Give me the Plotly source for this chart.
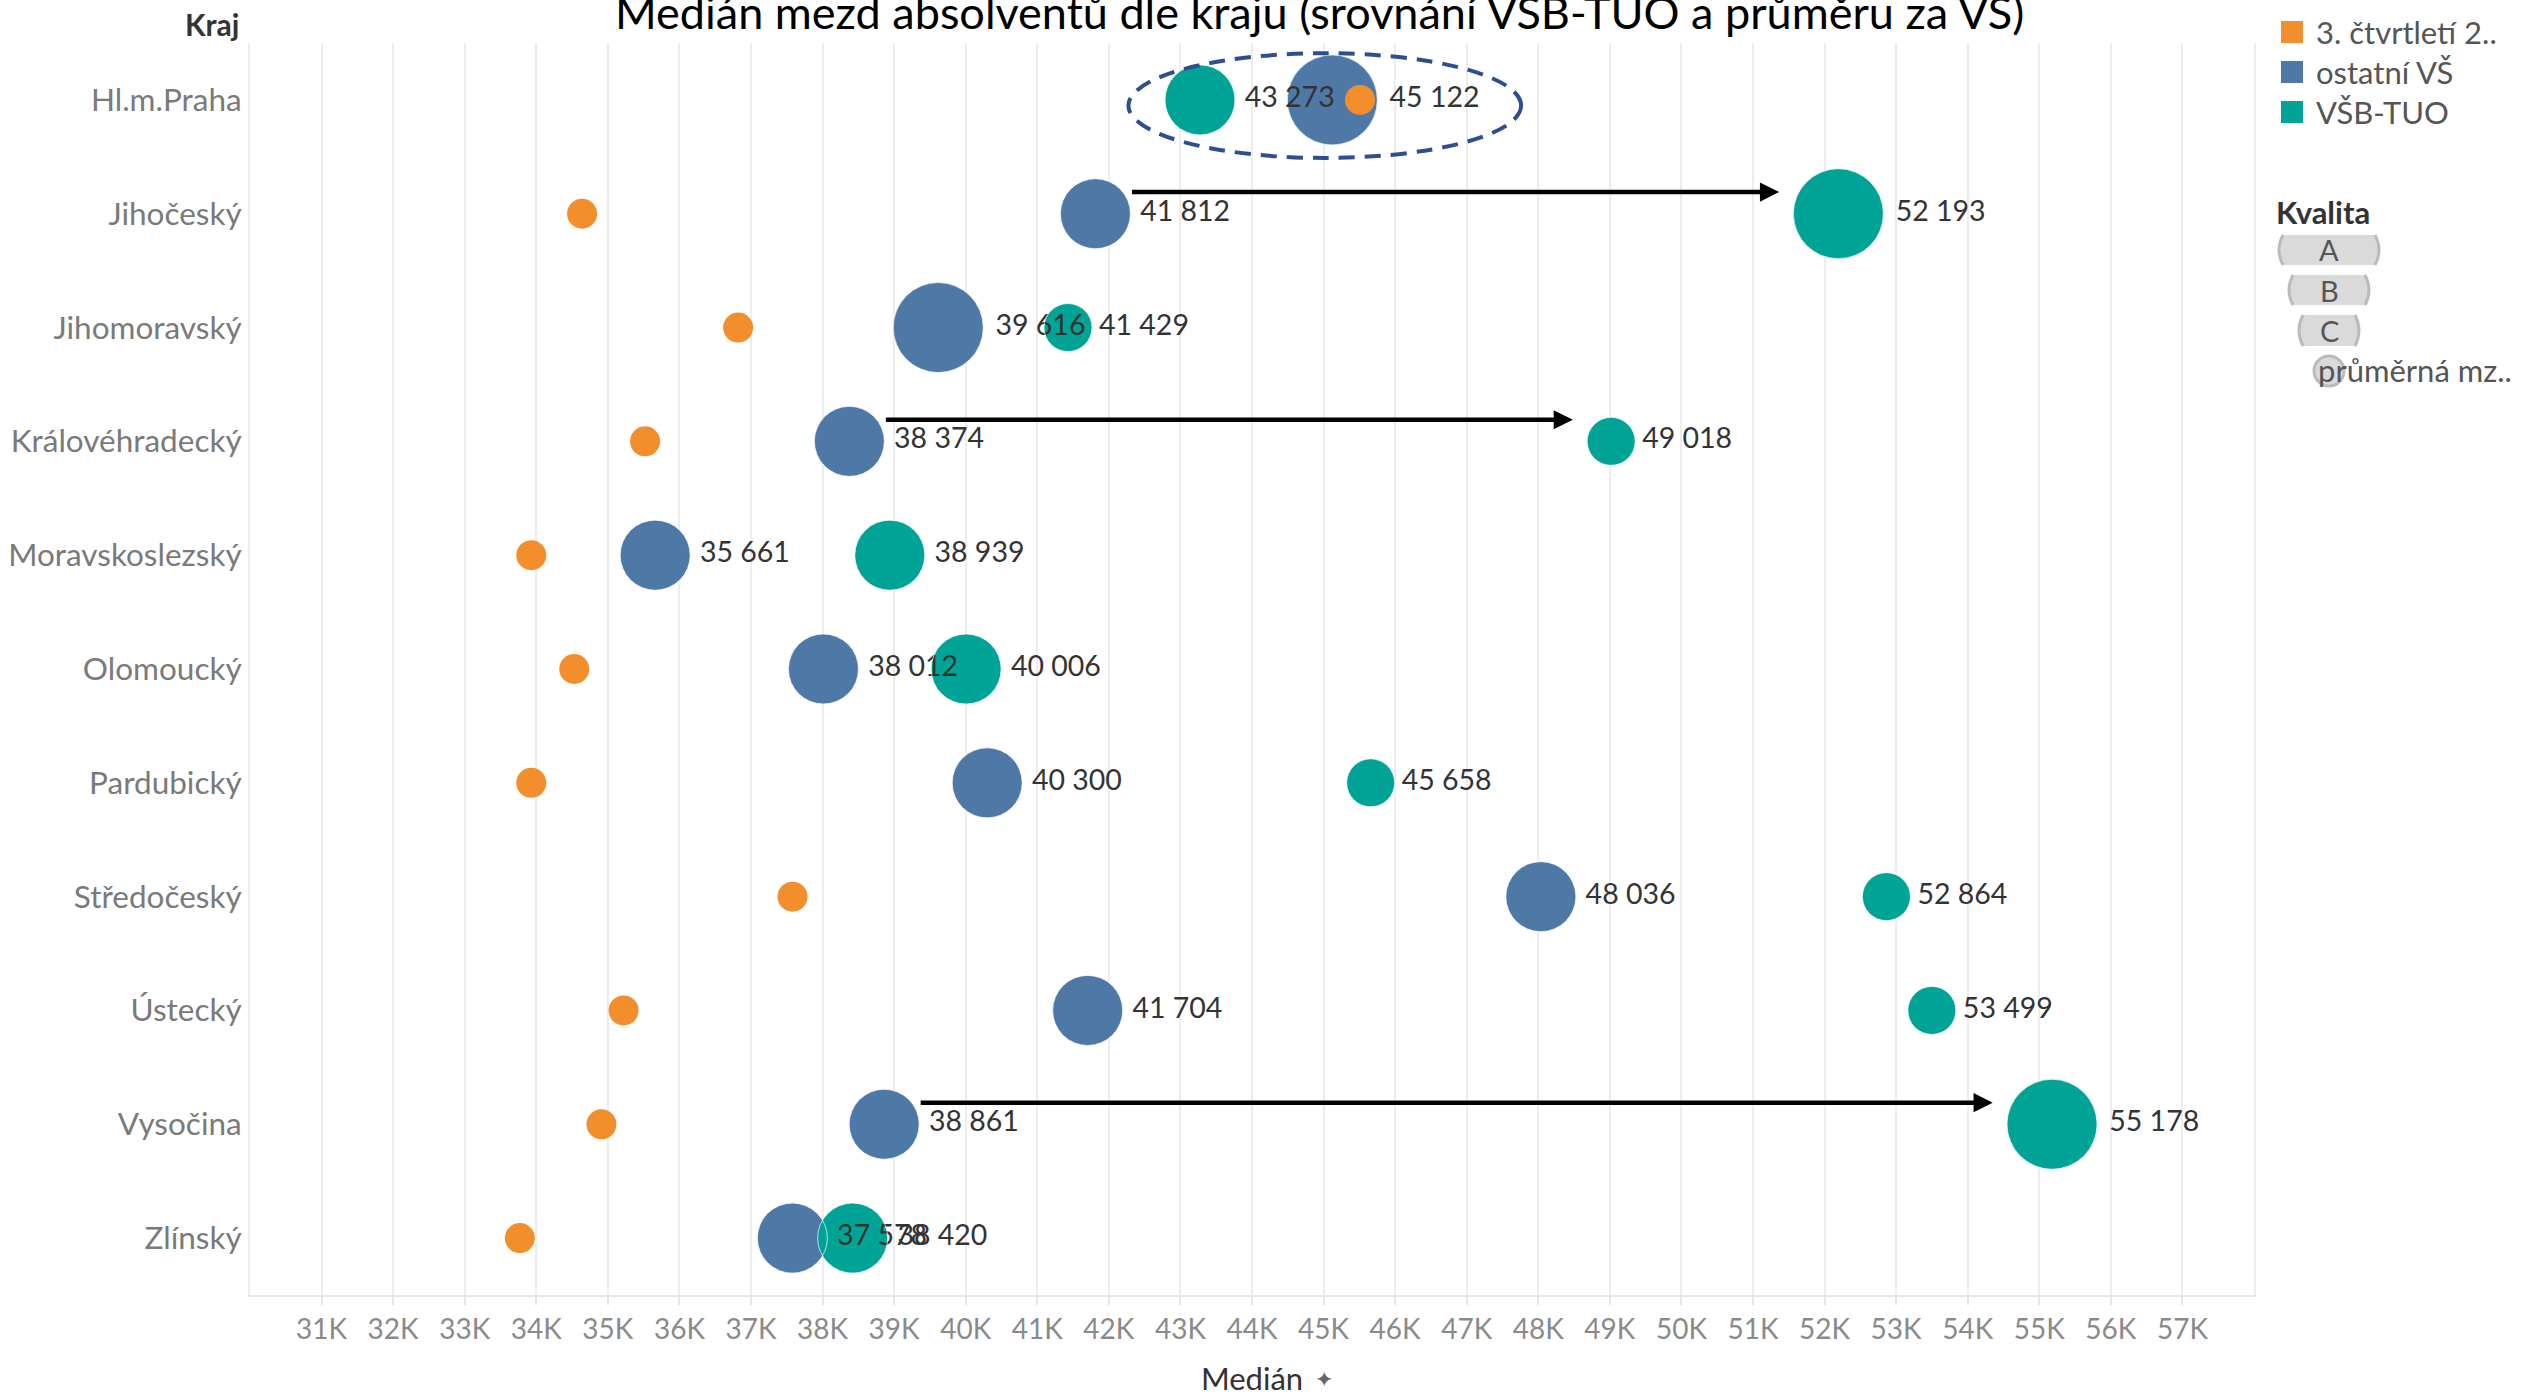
import plotly.graph_objects as go

# ---------------- data ----------------
regions = ["Hl.m.Praha", "Jihočeský", "Jihomoravský", "Královéhradecký", "Moravskoslezský",
           "Olomoucký", "Pardubický", "Středočeský", "Ústecký", "Vysočina", "Zlínský"]
ostatni_vs = [45122, 41812, 39616, 38374, 35661, 38012, 40300, 48036, 41704, 38861, 37578]
ostatni_kvalita = ["A", "B", "A", "B", "B", "B", "B", "B", "B", "B", "B"]
vsb_tuo = [43273, 52193, 41429, 49018, 38939, 40006, 45658, 52864, 53499, 55178, 38420]
vsb_kvalita = ["B", "A", "C", "C", "B", "B", "C", "C", "C", "A", "B"]
prumerna_mzda = [45510, 34640, 36820, 35520, 33930, 34530, 33930, 37580, 35220, 34910, 33770]

tick_values = [31000, 32000, 33000, 34000, 35000, 36000, 37000, 38000, 39000, 40000, 41000,
               42000, 43000, 44000, 45000, 46000, 47000, 48000, 49000, 50000, 51000, 52000,
               53000, 54000, 55000, 56000, 57000]
tick_labels = ["31K", "32K", "33K", "34K", "35K", "36K", "37K", "38K", "39K", "40K", "41K",
               "42K", "43K", "44K", "45K", "46K", "47K", "48K", "49K", "50K", "51K", "52K",
               "53K", "54K", "55K", "56K", "57K"]
arrow_regions = ["Jihočeský", "Královéhradecký", "Vysočina"]

legend_names = ["3. čtvrtletí 2..", "ostatní VŠ", "VŠB-TUO"]
size_legend = ["A", "B", "C", "průměrná mz.."]

# ---------------- style ----------------
FONT = "Lato"
C_ORANGE = "#F28E2B"
C_BLUE = "#4E79A7"
C_TEAL = "#00A496"
SIZE = {"A": 90, "B": 70, "C": 48, "avg": 30}

W, H = 2522, 1397
ML, MR, MT, MB = 250, 268, 43, 102
PW, PH = W - ML - MR, H - MT - MB
XMIN, XMAX = 30000, 58000


def px2x(px):
    return (px - ML) / PW


def py2y(py):
    return (H - MB - py) / PH


def fmt(v):
    return f"{v:,}".replace(",", " ")


blue_sizes = [SIZE[k] for k in ostatni_kvalita]
teal_sizes = [SIZE[k] for k in vsb_kvalita]
avg_sizes = [SIZE["avg"]] * len(regions)

fig = go.Figure()
fig.add_trace(go.Scatter(x=ostatni_vs, y=regions, mode="markers", name="ostatní VŠ",
                         marker=dict(color=C_BLUE, size=blue_sizes, line=dict(width=0), opacity=1)))
fig.add_trace(go.Scatter(x=vsb_tuo, y=regions, mode="markers", name="VŠB-TUO",
                         marker=dict(color=C_TEAL, size=teal_sizes, line=dict(width=0), opacity=1)))
fig.add_trace(go.Scatter(x=prumerna_mzda, y=regions, mode="markers", name="3. čtvrtletí 2..",
                         marker=dict(color=C_ORANGE, size=avg_sizes, line=dict(width=0), opacity=1)))
# labels on top of every circle
fig.add_trace(go.Scatter(x=ostatni_vs, y=regions, mode="markers+text",
                         text=[fmt(v) for v in ostatni_vs], textposition="middle right",
                         textfont=dict(family=FONT, size=28.5, color="#333333"),
                         marker=dict(color="rgba(0,0,0,0)", size=blue_sizes), hoverinfo="skip"))
fig.add_trace(go.Scatter(x=vsb_tuo, y=regions, mode="markers+text",
                         text=[fmt(v) for v in vsb_tuo], textposition="middle right",
                         textfont=dict(family=FONT, size=28.5, color="#333333"),
                         marker=dict(color="rgba(0,0,0,0)", size=teal_sizes), hoverinfo="skip"))

px_per_unit = PW / (XMAX - XMIN)
annotations = []
shapes = []

# arrows from ostatní VŠ to VŠB-TUO
for r in arrow_regions:
    i = regions.index(r)
    x_tail = ostatni_vs[i] + (SIZE[ostatni_kvalita[i]] / 2) / px_per_unit
    x_head = vsb_tuo[i] - (SIZE[vsb_kvalita[i]] / 2) / px_per_unit - 200
    annotations.append(dict(x=x_head, y=i - 0.19, ax=x_tail, ay=i - 0.19,
                            xref="x", yref="y", axref="x", ayref="y", text="",
                            showarrow=True, arrowhead=2, arrowsize=0.85, arrowwidth=4.5,
                            arrowcolor="black", standoff=0, startstandoff=0))

# dashed ellipse around Praha
ip = regions.index("Hl.m.Praha")
shapes.append(dict(type="circle", xref="x", yref="y",
                   x0=vsb_tuo[ip] - 1000, x1=prumerna_mzda[ip] + 2250,
                   y0=ip - 0.41, y1=ip + 0.51,
                   line=dict(color="#2E4F8F", width=4, dash="16px,10px")))

# title (clipped at top as in the original)
annotations.append(dict(text="Medián mezd absolventů dle kraju (srovnání VŠB-TUO a průměru za VŠ)",
                        xref="paper", yref="paper", x=px2x(1319), y=py2y(12),
                        xanchor="center", yanchor="middle", showarrow=False,
                        font=dict(family=FONT, size=45, color="#000000")))
# "Kraj" header
annotations.append(dict(text="<b>Kraj</b>", xref="paper", yref="paper", x=px2x(241), y=py2y(24),
                        xanchor="right", yanchor="middle", showarrow=False,
                        font=dict(family=FONT, size=30, color="#333333")))
# pin next to axis title
annotations.append(dict(text="✦", xref="paper", yref="paper", x=px2x(1324), y=py2y(1379),
                        xanchor="center", yanchor="middle", showarrow=False,
                        font=dict(family="DejaVu Sans", size=22, color="#666666")))

# colour legend
leg_colors = [C_ORANGE, C_BLUE, C_TEAL]
leg_y = [32, 72, 112]
for name, col, yc in zip(legend_names, leg_colors, leg_y):
    shapes.append(dict(type="rect", xref="paper", yref="paper",
                       x0=px2x(2281), x1=px2x(2303), y0=py2y(yc + 11), y1=py2y(yc - 11),
                       fillcolor=col, line=dict(width=0)))
    annotations.append(dict(text=name, xref="paper", yref="paper", x=px2x(2314), y=py2y(yc),
                            xanchor="left", yanchor="middle", showarrow=False,
                            font=dict(family=FONT, size=31, color="#555555")))

# size legend "Kvalita"
annotations.append(dict(text="<b>Kvalita</b>", xref="paper", yref="paper", x=px2x(2274), y=py2y(212),
                        xanchor="left", yanchor="middle", showarrow=False,
                        font=dict(family=FONT, size=31, color="#333333")))
pills = [(2283, 2375, 235, 265), (2293, 2365, 275, 305), (2303, 2355, 315, 346)]
for lbl, (x0, x1, y0, y1) in zip(size_legend[:3], pills):
    ym = (y0 + y1) / 2
    b = 8
    path = (f"M {px2x(x0)},{py2y(y0)} L {px2x(x1)},{py2y(y0)} "
            f"Q {px2x(x1 + b)},{py2y(ym)} {px2x(x1)},{py2y(y1)} "
            f"L {px2x(x0)},{py2y(y1)} Q {px2x(x0 - b)},{py2y(ym)} {px2x(x0)},{py2y(y0)} Z")
    shapes.append(dict(type="path", xref="paper", yref="paper", path=path,
                       fillcolor="#DADADA", line=dict(width=0)))
    for xe, s in ((x0, -1), (x1, 1)):
        arc = f"M {px2x(xe)},{py2y(y0)} Q {px2x(xe + s * b)},{py2y(ym)} {px2x(xe)},{py2y(y1)}"
        shapes.append(dict(type="path", xref="paper", yref="paper", path=arc,
                           line=dict(color="#BBBBBB", width=3)))
    annotations.append(dict(text=lbl, xref="paper", yref="paper", x=px2x((x0 + x1) / 2), y=py2y(ym),
                            xanchor="center", yanchor="middle", showarrow=False,
                            font=dict(family=FONT, size=29, color="#555555")))
shapes.append(dict(type="circle", xref="paper", yref="paper",
                   x0=px2x(2314), x1=px2x(2344), y0=py2y(386), y1=py2y(356),
                   fillcolor="#DADADA", line=dict(color="#BBBBBB", width=3)))
annotations.append(dict(text=size_legend[3], xref="paper", yref="paper", x=px2x(2316), y=py2y(370),
                        xanchor="left", yanchor="middle", showarrow=False,
                        font=dict(family=FONT, size=31, color="#555555")))

fig.update_layout(
    width=W, height=H,
    margin=dict(l=ML, r=MR, t=MT, b=MB, pad=0, autoexpand=False),
    paper_bgcolor="white", plot_bgcolor="white",
    showlegend=False,
    font=dict(family=FONT),
    shapes=shapes, annotations=annotations,
    xaxis=dict(range=[XMIN, XMAX], tickvals=tick_values, ticktext=tick_labels,
               showgrid=True, gridcolor="#EDEDED", gridwidth=1.5, zeroline=False,
               showline=True, linecolor="#E6E6E6", linewidth=2,
               ticks="outside", ticklen=8, tickcolor="#E6E6E6", tickwidth=1.5,
               tickfont=dict(family=FONT, size=28, color="#8A8A8A"),
               title=dict(text="Medián", font=dict(family=FONT, size=31, color="#333333"), standoff=27)),
    yaxis=dict(type="category", range=[len(regions) - 0.5, -0.5],
               showgrid=False, zeroline=False, showline=True, mirror=True,
               linecolor="#EDEDED", linewidth=2, ticks="",
               tickfont=dict(family=FONT, size=31.5, color="#7A7A7A"), ticklabelstandoff=0),
)

fig.write_html("out.html", config={"displayModeBar": False},
               post_script="document.body.style.margin='0px';")
